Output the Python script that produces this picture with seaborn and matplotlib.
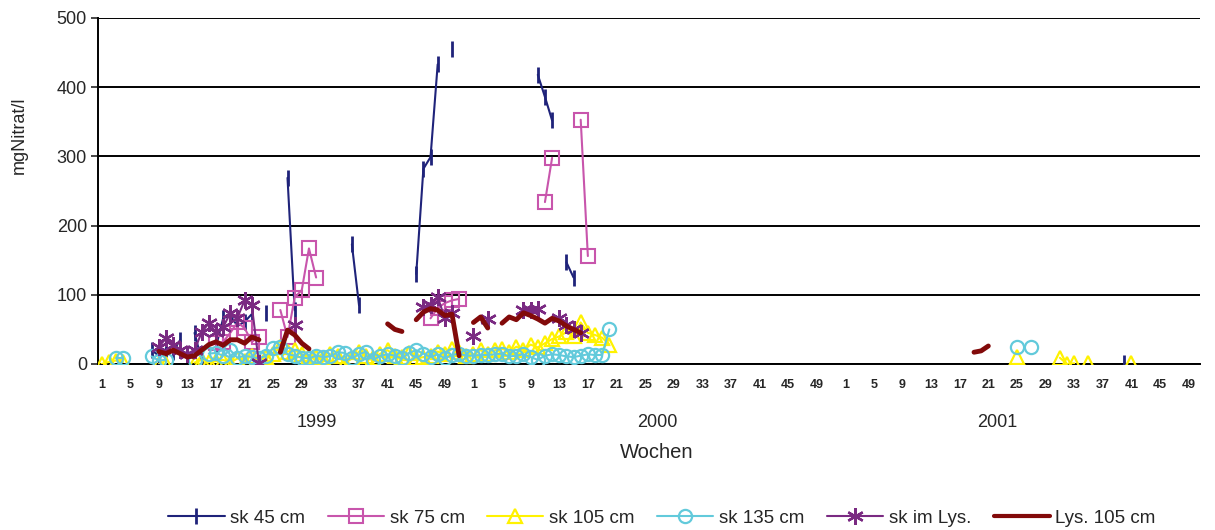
import numpy as np
import pandas as pd
import matplotlib
matplotlib.use("Agg")
import matplotlib.pyplot as plt
from matplotlib.lines import Line2D
import seaborn as sns

# Wochen fortlaufend: 1-52 = 1999, 53-104 = 2000, 105-154 = 2001
sk45_wk = [8, 9, 10, 11, 12, 14, 15, 17, 18, 19, 20, 21, 22, 24, 27, 28, 36, 37,
           45, 46, 47, 48, 50, 62, 63, 64, 66, 67, 144]
sk45_val = [20, 12, 22, 18, 35, 45, 5, 25, 66, 70, 55, 61, 72, 74, 269, 78, 173, 85,
            130, 282, 299, 433, 455, 418, 386, 352, 147, 125, 2]

sk75_wk = [17, 18, 19, 20, 21, 22, 23, 26, 27, 28, 29, 30, 31,
           47, 48, 49, 50, 51, 63, 64, 68, 69]
sk75_val = [30, 32, 45, 60, 52, 32, 39, 78, 39, 96, 107, 167, 125,
            66, 81, 88, 92, 94, 234, 298, 353, 156]

sk105_wk = [1, 2, 3, 4, 9, 10] + list(range(14, 73)) + [129, 135, 136, 137, 139, 145]
sk105_val = [0, 3, 5, 3, 0, 0,
             2, 6, 3, 4, 6, 2, 8, 5, 12, 4, 10, 14, 25, 18, 20, 14, 12, 10, 8, 14,
             12, 1, 8, 18, 12, 9, 15, 20, 12, 10, 16, 8, 10, 12, 18, 14, 22, 18, 12,
             14, 20, 14, 20, 22, 18, 25, 20, 28, 24, 30, 36, 40, 46, 40, 60, 45, 42,
             38, 28,
             10, 9, 0, 1, 1, 2]

sk135_wk = [3, 4, 8, 9, 10, 14] + list(range(16, 73)) + [129, 131]
sk135_val = [8, 8, 11, 5, 6, 6,
             15, 16, 12, 20, 9, 12, 10, 8, 12, 23, 24, 14, 12, 9, 8, 12, 10, 11,
             17, 16, 8, 14, 18, 6, 12, 14, 12, 8, 16, 20, 15, 10, 14, 8, 13, 15,
             12, 12, 13, 13, 14, 15, 11, 12, 14, 10, 6, 12, 14, 13, 11, 10, 12,
             14, 13, 13, 50,
             25, 25]

lys_sk_wk = [9, 10, 11, 12, 13, 14, 15, 16, 17, 18, 19, 20, 21, 22, 23, 28,
             46, 47, 48, 49, 50, 53, 55, 60, 61, 62, 65, 66, 67, 68]
lys_sk_val = [25, 37, 27, 20, 15, 20, 46, 59, 46, 53, 74, 67, 92, 85, 1, 57,
              83, 85, 97, 66, 74, 40, 65, 78, 78, 79, 66, 56, 50, 45]

lys105_wk = [9, 10, 11, 12, 13, 14, 15, 16, 17, 18, 19, 20, 21, 22, 23,
             26, 27, 28, 29, 30, 41, 42, 43, 45, 46, 47, 48, 49, 50, 51,
             53, 54, 55, 57, 58, 59, 60, 61, 62, 63, 64, 65, 66, 67, 68,
             123, 124, 125]
lys105_val = [18, 15, 20, 15, 10, 12, 20, 28, 32, 27, 35, 35, 30, 39, 35,
              17, 49, 42, 30, 22, 58, 50, 47, 64, 75, 80, 78, 70, 72, 12,
              60, 68, 52, 59, 68, 64, 74, 70, 65, 59, 66, 62, 55, 50, 45,
              17, 19, 26]

tick_weeks = list(range(1, 50, 4))
tick_pos = [w + 52 * j for j in range(3) for w in tick_weeks]
tick_labels = [str(w) for j in range(3) for w in tick_weeks]
years = ["1999", "2000", "2001"]


def to_segments(weeks, values):
    # neue Linie bei jeder Lücke in den Wochen
    df = pd.DataFrame({"woche": weeks, "wert": values}).sort_values("woche")
    df["seg"] = (df["woche"].diff() != 1).cumsum()
    return df


series = [
    ("sk 45 cm", sk45_wk, sk45_val, "#1F237A", 1.5,
     dict(marker="|", markersize=11, markeredgecolor="#1F237A", markeredgewidth=2)),
    ("sk 75 cm", sk75_wk, sk75_val, "#C855AC", 1.5,
     dict(marker="s", markersize=10, markerfacecolor="none",
          markeredgecolor="#C855AC", markeredgewidth=1.5)),
    ("sk 105 cm", sk105_wk, sk105_val, "#FFF200", 1.5,
     dict(marker="^", markersize=10, markerfacecolor="none",
          markeredgecolor="#FFF200", markeredgewidth=1.6)),
    ("sk 135 cm", sk135_wk, sk135_val, "#62CADB", 1.5,
     dict(marker="o", markersize=9.5, markerfacecolor="none",
          markeredgecolor="#62CADB", markeredgewidth=1.6)),
    ("sk im Lys.", lys_sk_wk, lys_sk_val, "#7A2A82", 1.5,
     dict(marker=(6, 2, 0), markersize=12, markeredgecolor="#7A2A82",
          markeredgewidth=1.7)),
    ("Lys. 105 cm", lys105_wk, lys105_val, "#820A0A", 3.5, dict()),
]

sns.set_style("white")
plt.rcParams["font.family"] = ["Liberation Sans", "DejaVu Sans"]

fig = plt.figure(figsize=(12.15, 5.3), dpi=100)
ax = fig.add_axes([98 / 1215, 1 - 364 / 530, (1200 - 98) / 1215, (364 - 18) / 530])

handles = []
for name, wk, val, col, lw, mk in series:
    df = to_segments(wk, val)
    sns.lineplot(data=df, x="woche", y="wert", units="seg", estimator=None,
                 color=col, linewidth=lw, ax=ax, legend=False, zorder=3, **mk)
    handles.append(Line2D([], [], color=col, linewidth=lw if lw < 3 else 3, **mk))

ax.set_xlim(0.5, 154.6)
ax.set_ylim(0, 500)
ax.set_yticks(range(0, 501, 100))
ax.yaxis.grid(True, color="black", linewidth=1.4)
ax.set_axisbelow(True)
for s in ["top", "right"]:
    ax.spines[s].set_visible(False)
for s in ["left", "bottom"]:
    ax.spines[s].set_color("black")
    ax.spines[s].set_linewidth(1.4)

ax.set_xticks(tick_pos)
ax.set_xticklabels(tick_labels, fontsize=9, fontweight="bold")
ax.tick_params(axis="x", length=0, pad=11)
ax.tick_params(axis="y", length=5, width=1.2, direction="out", labelsize=13,
               left=True, pad=3)

ax.set_xlabel("")
ax.set_ylabel("mgNitrat/l", fontsize=13)
ax.yaxis.set_label_coords(-0.064, 0.66)

for yr, xd in zip(years, [31.1, 78.7, 126.2]):
    ax.text(xd, -0.17, yr, transform=ax.get_xaxis_transform(), ha="center",
            va="center", fontsize=13)
fig.text(657 / 1215, 1 - 453 / 530, "Wochen", ha="center", va="center", fontsize=14.5)

fig.legend(handles, [s[0] for s in series], loc="center",
           bbox_to_anchor=(662 / 1215, 1 - 518 / 530), ncol=6, frameon=False,
           fontsize=13.5, handlelength=3.0, handletextpad=0.3, columnspacing=1.2)

fig.savefig("out.png", dpi=100)
